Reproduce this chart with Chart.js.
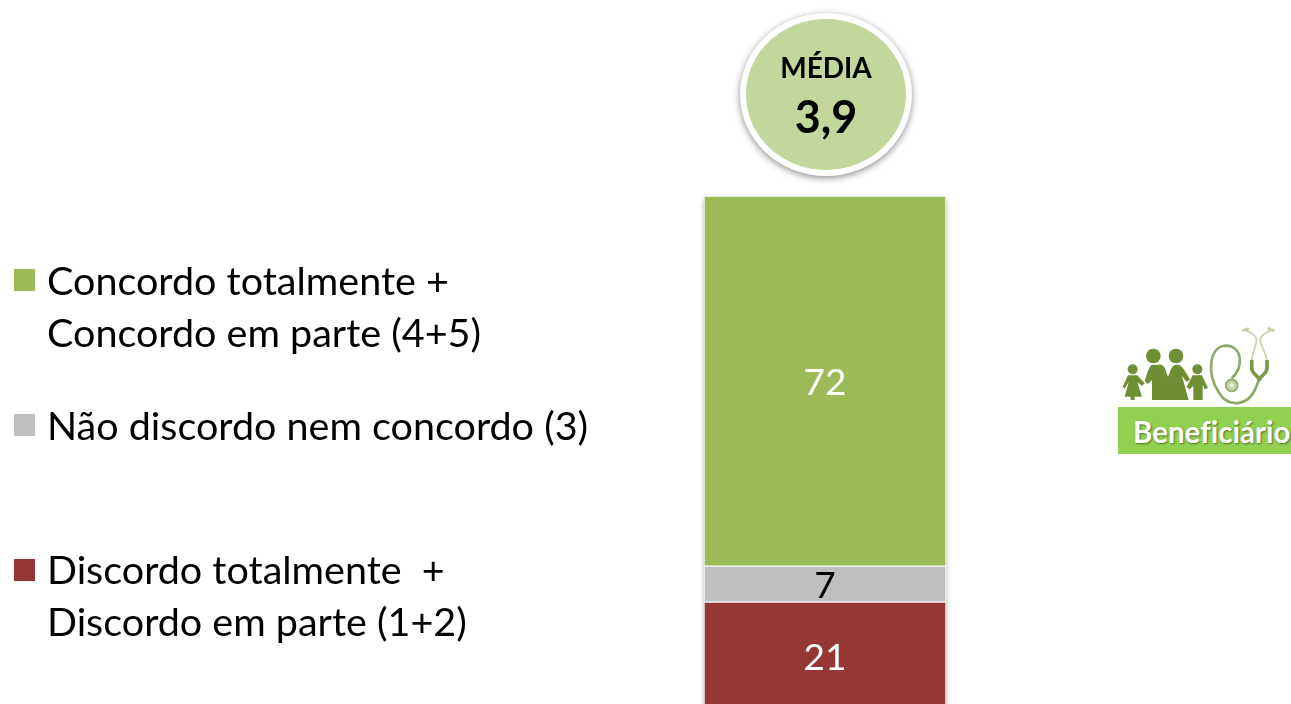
<!DOCTYPE html>
<html lang="pt">
<head>
<meta charset="utf-8">
<title>Média 3,9</title>
<script src="https://cdn.jsdelivr.net/npm/chart.js@4"></script>
<style>
  html, body { margin: 0; width: 1291px; height: 704px; overflow: hidden; background: #fff; font-family: Lato, "Open Sans", sans-serif; }
  #wrap { position: absolute; left: 0; top: 0; width: 1291px; height: 711px; }
  .key { position: absolute; left: 14px; width: 21px; height: 22px; }
  .label { position: absolute; left: 47px; font-size: 39.5px; line-height: 52px; color: #000; white-space: pre; }
  #circle { position: absolute; left: 740px; top: 13px; width: 160px; height: 151px; border: 6px solid #fff; border-radius: 50%; background: #c3d69b; box-shadow: 0 2px 7px rgba(0,0,0,.45); }
  #circle div { position: absolute; left: 0; width: 100%; text-align: center; font-weight: 700; color: #000; }
  #badge { position: absolute; left: 1118px; top: 407px; width: 173px; height: 47px; background: #92d050; color: #fff; font-weight: 700; font-size: 29.5px; line-height: 50px; box-sizing: border-box; padding-left: 15px; white-space: nowrap; overflow: hidden; font-variant-ligatures: none; text-shadow: 1px 1px 2px rgba(0,0,0,.45); }
  #icon { position: absolute; left: 1100px; top: 310px; width: 191px; height: 97px; }
</style>
</head>
<body>
<div id="wrap"><canvas id="chart" width="1291" height="711"></canvas></div>
<div id="legend"></div>
<div id="circle"><div style="top:30px;font-size:28px;line-height:36px">MÉDIA</div><div style="top:71px;font-size:45px;line-height:52px">3,9</div></div>
<svg id="icon" viewBox="0 0 573 291">
  <g fill="#6f8f35">
    <circle cx="98" cy="178" r="15"/><circle cx="160" cy="138" r="22"/><circle cx="228" cy="138" r="22"/><circle cx="292" cy="178" r="15"/>
    <path d="M84 196h28l22 24-8 8-14-12 14 44H104v10H92v-10H74l12-44-12 20-6-6z"/>
    <path d="M136 164h48c12 4 14 22 20 36 6-14 10-32 22-36h10c14 4 24 30 34 44l-10 8-14-18 20 72h-24h-42h-44v-60l-12 12-10-8c6-18 12-44 22-50z"/>
    <path d="M278 196h28l18 38-10 4-6-14v46h-28v-42l-12 10-8-8z"/>
  </g>
  <g fill="none" stroke="#8fa968">
    <path stroke-width="8" d="M395 205C432 175 428 108 378 107C328 108 318 190 358 250C385 292 445 292 468 232L478 208"/>
    <path stroke-width="11" stroke="#7d9a4c" d="M455 150V175C455 195 478 195 478 212M501 150V175C501 195 478 195 478 212"/>
    <path stroke-width="5" stroke="#c3d1a8" d="M455 150C460 100 495 85 435 60M501 150C490 100 455 85 515 60"/>
    <path stroke-width="9" stroke="#c3d1a8" stroke-linecap="round" d="M430 61L444 57M506 56L520 61"/>
  </g>
  <circle cx="395" cy="226" r="18" fill="#c4d2a6" stroke="#8fa968" stroke-width="5"/>
  <circle cx="395" cy="226" r="7" fill="#e6ecd8"/>
</svg>
<div id="badge">Beneficiário</div>
<script>
const categories = ['Beneficiário'];
const seriesNames = ['Discordo totalmente  +\nDiscordo em parte (1+2)', 'Não discordo nem concordo (3)', 'Concordo totalmente +\nConcordo em parte (4+5)'];
const seriesValues = [[21], [7], [72]];
const seriesColors = ['#953735', '#bfbfbf', '#9bbb59'];
const labelColors = ['#fff', '#000', '#fff'];
const legendTops = [543, 399, 254];
const keyTops = [559, 414, 269];

const legend = document.getElementById('legend');
seriesNames.forEach((name, i) => {
  const key = document.createElement('div');
  key.className = 'key';
  key.style.top = keyTops[i] + 'px';
  key.style.background = seriesColors[i];
  const label = document.createElement('div');
  label.className = 'label';
  label.style.top = legendTops[i] + 'px';
  label.textContent = name;
  legend.append(key, label);
});

// soft shadow behind the whole column
const columnShadow = {
  id: 'columnShadow',
  beforeDatasetsDraw(chart) {
    const { ctx, chartArea: a } = chart;
    ctx.save();
    ctx.shadowColor = 'rgba(0,0,0,.3)';
    ctx.shadowBlur = 5;
    ctx.shadowOffsetY = 1;
    ctx.fillStyle = '#fff';
    ctx.fillRect(a.left, a.top + 2, a.right - a.left, a.bottom - a.top);
    ctx.restore();
  },
};

const valueLabels = {
  id: 'valueLabels',
  afterDatasetsDraw(chart) {
    const { ctx } = chart;
    ctx.save();
    ctx.font = '37px Lato, "Open Sans", sans-serif';
    ctx.textAlign = 'center';
    ctx.textBaseline = 'middle';
    chart.data.datasets.forEach((ds, i) => {
      const bar = chart.getDatasetMeta(i).data[0];
      ctx.fillStyle = labelColors[i];
      ctx.fillText(ds.data[0], bar.x, (bar.y + bar.base) / 2 + 2);
    });
    ctx.restore();
  },
};

new Chart(document.getElementById('chart'), {
  type: 'bar',
  data: {
    labels: categories,
    datasets: seriesValues.map((data, i) => ({
      label: seriesNames[i],
      data,
      backgroundColor: seriesColors[i],
      borderColor: '#fff',
      borderWidth: 1,
      borderSkipped: false,
      barPercentage: 1,
      categoryPercentage: 1,
    })),
  },
  options: {
    responsive: false,
    animation: false,
    layout: { padding: { left: 704, right: 345, top: 196, bottom: 1 } },
    plugins: { legend: { display: false }, tooltip: { enabled: false } },
    scales: {
      x: { stacked: true, display: false },
      y: { stacked: true, display: false, min: 0, max: 100 },
    },
  },
  plugins: [columnShadow, valueLabels],
});
</script>
</body>
</html>
